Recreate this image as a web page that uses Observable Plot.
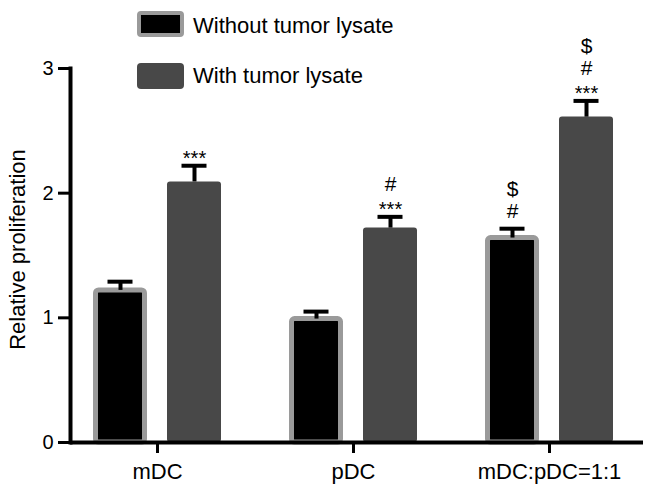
<!DOCTYPE html>
<html><head><meta charset="utf-8">
<script src="https://cdn.jsdelivr.net/npm/d3@7"></script>
<script src="https://cdn.jsdelivr.net/npm/@observablehq/plot@0.6"></script>
<style>
body{margin:0;background:#fff;font-family:"Liberation Sans",Arial,sans-serif;}
#wrap{position:relative;width:646px;height:492px;}
#wrap svg{position:absolute;left:0;top:0;}
#wrap svg g[aria-label="frame"] *{stroke-width:4px;}
#wrap svg g[aria-label="y-axis tick"] *{stroke-width:3px;}
#wrap svg g[aria-label="x-axis tick"] *{stroke-width:3px;}
.sw{position:absolute;box-sizing:border-box;border-radius:4px;}
.lt{position:absolute;font-size:22px;line-height:22px;color:#000;white-space:nowrap;}
</style></head><body><div id="wrap"></div>
<script>
const groups = ["mDC", "pDC", "mDC:pDC=1:1"];
const seriesNames = ["Without tumor lysate", "With tumor lysate"];
const withoutMean = [1.22, 0.99, 1.64];
const withoutSem = [0.07, 0.06, 0.075];
const withMean = [2.09, 1.72, 2.61];
const withSem = [0.13, 0.09, 0.13];
const withoutStars = ["", "", ""];
const withoutSymbols = ["", "", "$\n#"];
const withStars = ["***", "***", "***"];
const withSymbols = ["", "#", "$\n#"];
const yTicks = [0, 1, 2, 3];

const W = 646, H = 492;
const xRange = [59, 647];
const half = (xRange[1] - xRange[0]) / groups.length / 2;
const barW = 54, offset = 37, capW = 25;

function rowsFor(mean, sem, stars, syms) {
  return groups.map((g, i) => ({group: g, mean: mean[i], sem: sem[i], stars: stars[i], syms: syms[i]}));
}
const series = [
  {name: seriesNames[0], rows: rowsFor(withoutMean, withoutSem, withoutStars, withoutSymbols), dx: -offset, fill: "#000", stroke: "#9a9a9a", sw: 5},
  {name: seriesNames[1], rows: rowsFor(withMean, withSem, withStars, withSymbols), dx: offset, fill: "#484848", stroke: "none", sw: 0}
];

const marks = [];
for (const s of series) {
  const si = s.sw / 2;
  marks.push(Plot.barY(s.rows, {x: "group", y: "mean", fill: s.fill, stroke: s.stroke, strokeWidth: s.sw, rx: 3,
    insetLeft: half + s.dx - barW / 2 + si, insetRight: half - s.dx - barW / 2 + si}));
  marks.push(Plot.ruleX(s.rows, {x: "group", y1: "mean", y2: d => d.mean + d.sem, dx: s.dx, strokeWidth: 4, stroke: "#000"}));
  marks.push(Plot.tickY(s.rows, {x: "group", y: d => d.mean + d.sem, strokeWidth: 4, stroke: "#000",
    insetLeft: half + s.dx - capW / 2, insetRight: half - s.dx - capW / 2}));
  marks.push(Plot.text(s.rows.filter(d => d.stars), {x: "group", y: d => d.mean + d.sem, text: "stars", dx: s.dx, dy: -1,
    lineAnchor: "bottom", fontSize: 20, fill: "#000"}));
  marks.push(Plot.text(s.rows.filter(d => d.stars && d.syms), {x: "group", y: d => d.mean + d.sem, text: "syms", dx: s.dx, dy: -26,
    lineAnchor: "bottom", fontSize: 21, lineHeight: 1.05, fill: "#000"}));
  marks.push(Plot.text(s.rows.filter(d => !d.stars && d.syms), {x: "group", y: d => d.mean + d.sem, text: "syms", dx: s.dx, dy: -11,
    lineAnchor: "bottom", fontSize: 21, lineHeight: 1.05, fill: "#000"}));
}

const chart = Plot.plot({
  width: W, height: H,
  marginLeft: 70, marginRight: 3, marginTop: 68, marginBottom: 50,
  style: {fontFamily: "Liberation Sans, Arial, sans-serif", color: "#000", background: "transparent"},
  x: {domain: groups, range: xRange, padding: 0, axis: null},
  y: {domain: [0, 3], axis: null},
  marks: [
    ...marks,
    Plot.frame({anchor: "left", strokeWidth: 4, stroke: "#000"}),
    Plot.ruleY([0], {strokeWidth: 4, stroke: "#000"}),
    Plot.axisY({ticks: yTicks, tickFormat: d3.format("d"), tickSize: 12, tickPadding: 5, strokeWidth: 3, fontSize: 20, label: null}),
    Plot.axisX({tickSize: 11, tickPadding: 10, strokeWidth: 3, fontSize: 22, label: null}),
    Plot.text(["Relative proliferation"], {frameAnchor: "left", textAnchor: "middle", rotate: -90, dx: -53, dy: -6, fontSize: 22, fill: "#000"})
  ]
});

const wrap = document.getElementById("wrap");
wrap.appendChild(chart);

const legendPos = [{top: 11, text: 26}, {top: 63, text: 76}];
series.forEach((s, i) => {
  const sw = document.createElement("div");
  sw.className = "sw";
  sw.style.left = "137px";
  sw.style.top = legendPos[i].top + "px";
  sw.style.width = "47px";
  sw.style.height = "26px";
  sw.style.background = s.fill;
  if (s.sw) sw.style.border = "4px solid " + s.stroke;
  wrap.appendChild(sw);
  const t = document.createElement("div");
  t.className = "lt";
  t.style.left = "193px";
  t.style.top = (legendPos[i].text - 11) + "px";
  t.textContent = s.name;
  wrap.appendChild(t);
});
</script>
</body></html>
